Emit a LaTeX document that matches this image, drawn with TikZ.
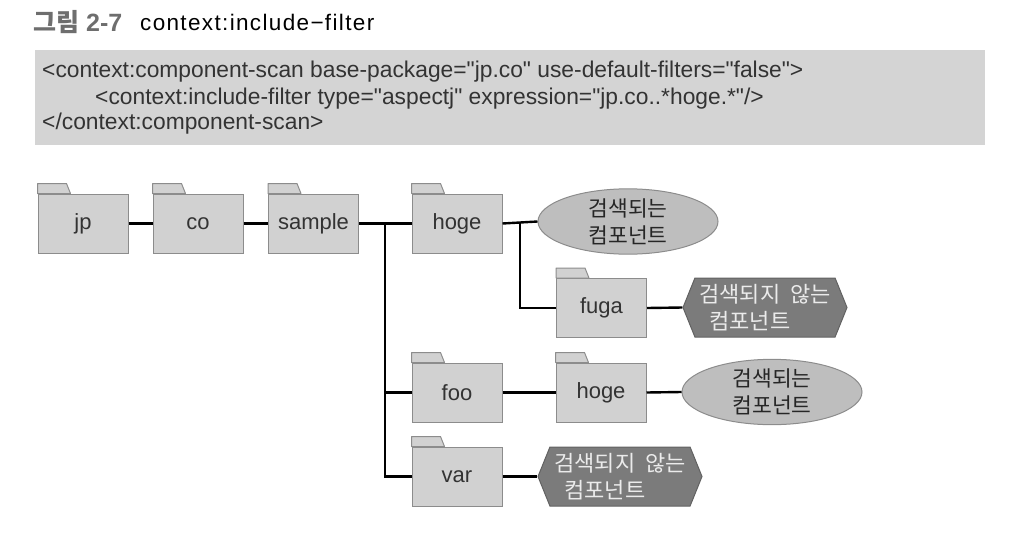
\documentclass[tikz,border=0pt]{standalone}
\usepackage{fontspec}
\setmainfont{Liberation Sans}
\newfontfamily\kr{Noto Sans CJK KR}
\newfontfamily\codefont{Liberation Sans}[Ligatures=TeXOff]
\newfontfamily\titlefont[LetterSpace=6]{Liberation Sans}
\usetikzlibrary{shapes.geometric,shapes.symbols,calc}
\definecolor{folderfill}{HTML}{D1D1D1}
\definecolor{folderline}{HTML}{8C8C8C}
\definecolor{codefill}{HTML}{D4D4D4}
\definecolor{ellfill}{HTML}{BEBEBE}
\definecolor{hexfill}{HTML}{7B7B7B}
\definecolor{txtgray}{HTML}{333333}
\definecolor{titlegray}{HTML}{6E6E6E}
\newcommand\fold[3]{%
  \node[folder] (#1) at (#2) {#3};
  \draw[foldertab] (#1.north west) -- ++(0,-10) -- ++(29,0) -- ++(4,10) -- cycle;}
\begin{document}
\begin{tikzpicture}[x=1pt,y=-1pt,
  folder/.style={draw=folderline, fill=folderfill, line width=1pt, minimum width=90pt,
    minimum height=59pt, inner sep=0pt, font=\fontsize{22}{23}\selectfont, text=txtgray},
  foldertab/.style={draw=folderline, fill=folderfill, line width=1pt, line join=round},
  found/.style={ellipse, draw=folderline, fill=ellfill, line width=1pt, inner sep=0pt,
    align=center, font=\kr\fontsize{21.5}{27}\selectfont, text=black!85},
  notfound/.style={signal, signal to=west and east, signal pointer angle=136,
    draw=hexfill!80!black, fill=hexfill, line width=1pt, inner sep=0pt,
    minimum width=164pt, minimum height=59pt, align=left,
    font=\kr\fontsize{22}{27}\selectfont, text=white!92!black},
  conn/.style={line width=2.4pt, black},
  codeline/.style={anchor=west, inner sep=0pt, font=\codefont\fontsize{22.8}{23}\selectfont, text=txtgray}]
\useasboundingbox (0,0) rectangle (1012,552);
% title
\node[anchor=west, inner sep=0pt, text=titlegray, font=\bfseries\fontsize{25}{26}\selectfont] (tnum) at (33,22) {{\kr\bfseries 그림} 2-7};
\node[anchor=west, inner sep=0pt, font=\titlefont\fontsize{22.5}{24}\selectfont] (tname) at (140,22) {context:include−filter};
% code box
\node[fill=codefill, minimum width=950pt, minimum height=95pt, anchor=north west, inner sep=0pt] (code) at (35,50) {};
\node[codeline] (c1) at (42,72) {<context:component-scan base-package="jp.co" use-default-filters="false">};
\node[codeline] (c2) at (95,99) {<context:include-filter type="aspectj" expression="jp.co..*hoge.*"/>};
\node[codeline] (c3) at (42,124) {</context:component-scan>};
% folders
\fold{jp}{83,223.5}{jp}
\fold{co}{198,223.5}{co}
\fold{sample}{313.5,223.5}{sample}
\fold{hoge}{457,223.5}{hoge}
\fold{fuga}{601.5,308}{fuga}
\fold{foo}{457,392.5}{foo}
\fold{hogeb}{601,392.5}{hoge}
\fold{var}{457,476.5}{var}
% results
\node[found, minimum width=180pt, minimum height=62pt] (e1) at (628,221.5) {검색되는\\컴포넌트};
\node[found, minimum width=180pt, minimum height=58pt] (e2) at (772,392) {검색되는\\컴포넌트};
\node[notfound] (h1) at (765,307.5) {검색되지\hspace{5pt} 않는\\\hspace*{10pt}컴포넌트};
\node[notfound] (h2) at (620,476.5) {검색되지\hspace{5pt} 않는\\\hspace*{10pt}컴포넌트};
% connectors
\coordinate (t) at ($(sample.east)!0.5!(hoge.west)$);
\coordinate (u) at ($(hoge.east)!0.5!(e1.west)$);
\draw[conn] (jp.east) -- (co.west);
\draw[conn] (co.east) -- (sample.west);
\draw[conn] (sample.east) -- (hoge.west);
\draw[conn] (t) |- (foo.west);
\draw[conn] (t) |- (var.west);
\draw[conn] (hoge.east) -- (e1.west);
\draw[conn] (u) |- (fuga.west);
\draw[conn] (fuga.east) -- (h1.west);
\draw[conn] (foo.east) -- (hogeb.west);
\draw[conn] (hogeb.east) -- (e2.west);
\draw[conn] (var.east) -- (h2.west);
\end{tikzpicture}
\end{document}
